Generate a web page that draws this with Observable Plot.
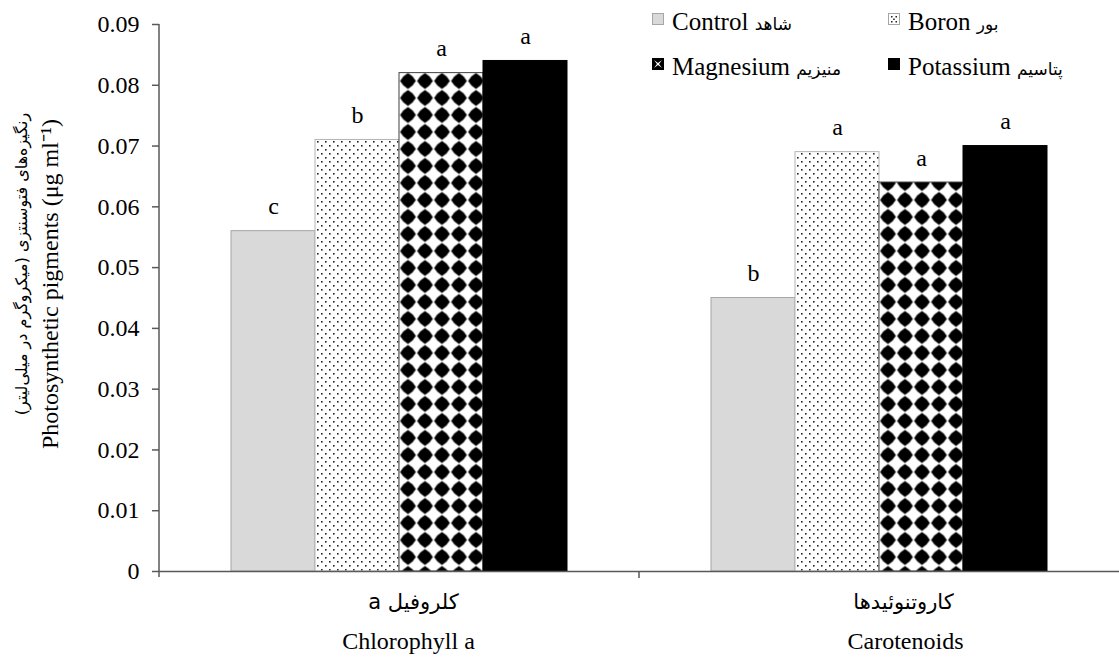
<!DOCTYPE html>
<html><head><meta charset="utf-8">
<script src="https://cdn.jsdelivr.net/npm/d3@7"></script>
<script src="https://cdn.jsdelivr.net/npm/@observablehq/plot@0.6"></script>
<style>
body{margin:0;background:#fff;}
#wrap{position:relative;width:1119px;height:657px;}
#legend{position:absolute;left:652px;top:8px;display:grid;grid-template-columns:236px 236px;row-gap:15px;font-family:"Liberation Serif","Times New Roman",serif;font-weight:normal;font-size:25px;line-height:28px;color:#000;}
.item{white-space:nowrap;}
.sw{display:inline-block;width:12px;height:12px;vertical-align:5px;margin-right:8px;}
.fa{font-family:"DejaVu Sans",sans-serif;font-size:17px;}
</style></head>
<body><div id="wrap"><div id="legend"></div></div>
<script>
// ---- data ----
const categories = ["Chlorophyll a", "Carotenoids"];
const categoriesFa = ["کلروفیل a", "کاروتنوئیدها"];
const treatments = ["Control", "Boron", "Magnesium", "Potassium"];
const treatmentsFa = ["شاهد", "بور", "منیزیم", "پتاسیم"];
const chlorophyll = [0.056, 0.071, 0.082, 0.084];
const carotenoids = [0.045, 0.069, 0.064, 0.070];
const chlorophyllLetters = ["c", "b", "a", "a"];
const carotenoidsLetters = ["b", "a", "a", "a"];
const yTicks = [0, 0.01, 0.02, 0.03, 0.04, 0.05, 0.06, 0.07, 0.08, 0.09];
const yLabelEn = "Photosynthetic pigments (μg ml⁻¹)";
const yLabelFa = "(رنگیزه‌های فتوسنتزی (میکروگرم در میلی‌لیتر";

// ---- tables ----
const values = [chlorophyll, carotenoids];
const letters = [chlorophyllLetters, carotenoidsLetters];
const rows = [];
categories.forEach((c, i) => treatments.forEach((t, j) =>
  rows.push({category: c, treatment: t, value: values[i][j], letter: letters[i][j]})));
const catRows = categories.map((c, i) => ({category: c, fa: categoriesFa[i]}));

const SERIF = '"Liberation Serif", "Times New Roman", serif';
const FA = '"DejaVu Sans", sans-serif';
const fillOf = {Control: "#d9d9d9", Boron: "url(#pat-boron)", Magnesium: "url(#pat-mg)", Potassium: "#000000"};
const strokeOf = {Control: "#a6a6a6", Boron: "#b4b4b4", Magnesium: "#404040", Potassium: "#000000"};

const chart = Plot.plot({
  width: 1119, height: 657,
  marginLeft: 159, marginRight: 0, marginTop: 24, marginBottom: 86,
  style: {fontFamily: SERIF, fontWeight: "normal", fontSize: "24px", color: "#000", background: "#fff"},
  fx: {domain: categories, padding: 0, axis: null},
  x: {domain: treatments, paddingInner: 0, paddingOuter: 0.83, axis: null},
  y: {domain: [0, 0.09], ticks: yTicks, tickFormat: d => d === 0 ? "0" : d.toFixed(2), tickSize: 7, tickPadding: 13, label: null},
  color: {type: "identity"},
  marks: [
    Plot.barY(rows, {fx: "category", x: "treatment", y: "value",
      fill: d => fillOf[d.treatment], stroke: d => strokeOf[d.treatment], strokeWidth: 1}),
    Plot.ruleY([0], {stroke: "#595959", strokeWidth: 1.5}),
    Plot.text(rows, {fx: "category", x: "treatment", y: "value", text: "letter", dy: -17, lineAnchor: "bottom", fontSize: 24, fontFamily: SERIF}),
    Plot.text(catRows.filter(d => d.category === categories[0]), {fx: "category", text: "fa", frameAnchor: "bottom", dy: 37, dx: 14, fontFamily: FA, fontSize: 21}),
    Plot.text(catRows.filter(d => d.category === categories[0]), {fx: "category", text: "category", frameAnchor: "bottom", dy: 77, dx: 9, fontSize: 24, fontFamily: SERIF}),
    Plot.text(catRows.filter(d => d.category === categories[1]), {fx: "category", text: "fa", frameAnchor: "bottom", dy: 37, dx: 24, fontFamily: FA, fontSize: 21}),
    Plot.text(catRows.filter(d => d.category === categories[1]), {fx: "category", text: "category", frameAnchor: "bottom", dy: 77, dx: 26, fontSize: 24, fontFamily: SERIF}),
    Plot.text([yLabelEn], {fx: () => categories[0], text: d => d, frameAnchor: "left", textAnchor: "middle", rotate: -90, dx: -109, dy: -14, fontSize: 24, fontFamily: SERIF}),
    Plot.text([yLabelFa], {fx: () => categories[0], text: d => d, frameAnchor: "left", textAnchor: "middle", rotate: -90, dx: -138, dy: -34, fontSize: 16, fontFamily: FA})
  ]
});

// patterns
const svg = d3.select(chart);
const defs = svg.insert("defs", ":first-child");
const pb = defs.append("pattern").attr("id", "pat-boron").attr("patternUnits", "userSpaceOnUse").attr("width", 8).attr("height", 8);
pb.append("rect").attr("width", 8).attr("height", 8).attr("fill", "#fff");
pb.append("rect").attr("x", 1).attr("y", 1).attr("width", 1.6).attr("height", 1.6).attr("fill", "#222");
pb.append("rect").attr("x", 5).attr("y", 5).attr("width", 1.6).attr("height", 1.6).attr("fill", "#222");
const pm = defs.append("pattern").attr("id", "pat-mg").attr("patternUnits", "userSpaceOnUse").attr("width", 17).attr("height", 17).attr("x", -8.5).attr("y", 4.5);
pm.append("rect").attr("width", 17).attr("height", 17).attr("fill", "#fff");
pm.append("path").attr("d", "M8.5,0.6 Q13.6,3.4 16.4,8.5 Q13.6,13.6 8.5,16.4 Q3.4,13.6 0.6,8.5 Q3.4,3.4 8.5,0.6Z").attr("fill", "#000");

// right-to-left Persian category labels
svg.selectAll("text").filter(function() { return categoriesFa.includes(this.textContent); })
  .attr("direction", "rtl").style("direction", "rtl").attr("unicode-bidi", "embed");

// axis lines through the plot's scales
const fxS = chart.scale("fx"), yS = chart.scale("y");
const left = fxS.range[0];
svg.append("line").attr("x1", left).attr("x2", left).attr("y1", yS.apply(0.09)).attr("y2", yS.apply(0) + 6)
  .attr("stroke", "#595959").attr("stroke-width", 1.5);
const mid = fxS.apply(categories[1]);
svg.append("line").attr("x1", mid).attr("x2", mid).attr("y1", yS.apply(0)).attr("y2", yS.apply(0) + 7)
  .attr("stroke", "#595959").attr("stroke-width", 1.5);
svg.selectAll('[aria-label^="y-axis"] line, [aria-label^="y-axis"] path').attr("stroke", "#595959").attr("stroke-width", 1.5);

document.getElementById("wrap").prepend(chart);

// legend
const swatches = {
  Control: '<rect x="0.5" y="0.5" width="11" height="11" fill="#d9d9d9" stroke="#a6a6a6"/>',
  Boron: '<rect x="0.5" y="0.5" width="11" height="11" fill="#fff" stroke="#a6a6a6"/><rect x="3" y="3" width="1.5" height="1.5" fill="#222"/><rect x="7.5" y="3" width="1.5" height="1.5" fill="#222"/><rect x="5.2" y="5.5" width="1.5" height="1.5" fill="#222"/><rect x="3" y="8" width="1.5" height="1.5" fill="#222"/><rect x="7.5" y="8" width="1.5" height="1.5" fill="#222"/>',
  Magnesium: '<rect x="0" y="0" width="12" height="12" fill="#000"/><path d="M2,2 L6,5 L10,2 L7,6 L10,10 L6,7 L2,10 L5,6Z" fill="#fff"/>',
  Potassium: '<rect x="0" y="0" width="12" height="12" fill="#000"/>'
};
const legend = document.getElementById("legend");
treatments.forEach((t, i) => {
  const div = document.createElement("div");
  div.className = "item";
  div.innerHTML = `<svg class="sw" viewBox="0 0 12 12">${swatches[t]}</svg>${t} <span class="fa">${treatmentsFa[i]}</span>`;
  legend.appendChild(div);
});
</script>
</body></html>
